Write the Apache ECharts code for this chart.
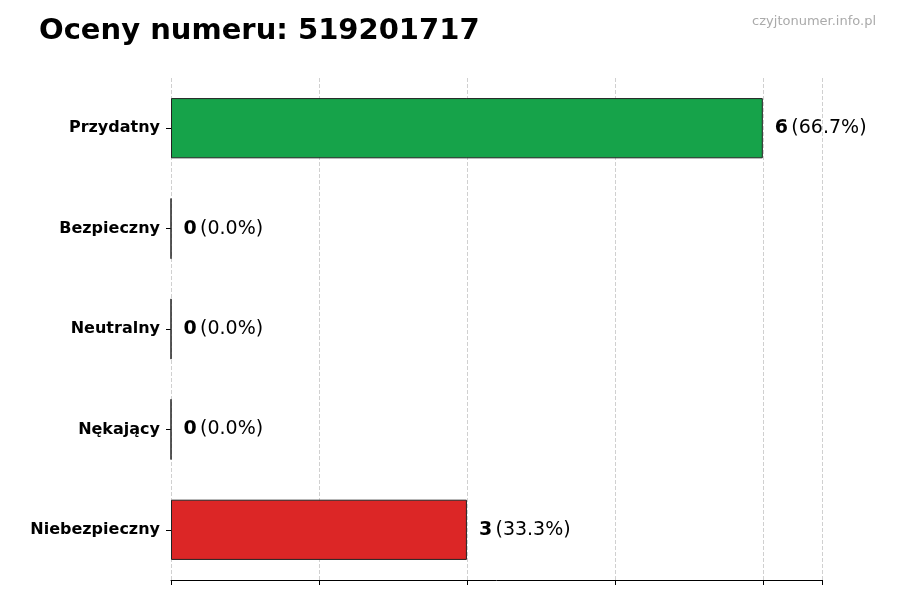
<!DOCTYPE html>
<html><head><meta charset="utf-8">
<script src="https://cdn.jsdelivr.net/npm/echarts@6/dist/echarts.min.js"></script>
<style>html,body{margin:0;padding:0;background:#fff}</style>
</head><body>
<div id="main" style="width:900px;height:600px"></div>
<script>
const categories = ['Przydatny', 'Bezpieczny', 'Neutralny', 'Nękający', 'Niebezpieczny'];
const counts = [6, 0, 0, 0, 3];
const percents = ['66.7%', '0.0%', '0.0%', '0.0%', '33.3%'];
const colors = ['#16a34a', '#16a34a', '#9ca3af', '#dc2626', '#dc2626'];

const chart = echarts.init(document.getElementById('main'));
chart.setOption({
    animation: false,
    title: [
        { text: 'Oceny numeru: 519201717', left: 34, top: 12,
          textStyle: { fontFamily: 'DejaVu Sans', fontSize: 29, fontWeight: 'bold', color: '#000' } },
        { text: 'czyjtonumer.info.pl', right: 19, top: 10,
          textStyle: { fontFamily: 'DejaVu Sans', fontSize: 13, fontWeight: 'normal', color: '#aaa' } }
    ],
    grid: { left: 171, right: 78, top: 78, bottom: 20 },
    xAxis: {
        type: 'value', min: 0, max: 6.6, interval: 1.5,
        axisLabel: { show: false },
        axisLine: { show: true, lineStyle: { color: '#000' } },
        axisTick: { show: true, length: 5, lineStyle: { color: '#000' } },
        splitLine: { show: true, lineStyle: { type: 'dashed', color: '#d0d0d0' } }
    },
    yAxis: {
        type: 'category', inverse: true, data: categories,
        axisLine: { show: false },
        axisTick: { show: true, alignWithLabel: true, length: 5, lineStyle: { color: '#000' } },
        axisLabel: { fontFamily: 'DejaVu Sans', fontSize: 16, fontWeight: 'bold', color: '#000', margin: 11 }
    },
    series: [{
        type: 'bar', barWidth: '60%',
        data: counts.map((v, i) => ({
            value: v,
            itemStyle: { color: colors[i], borderColor: '#222', borderWidth: 1 }
        })),
        label: {
            show: true, position: 'right', distance: 12,
            formatter: p => '{b|' + p.value + '} {n|(' + percents[p.dataIndex] + ')}',
            rich: {
                b: { fontFamily: 'DejaVu Sans', fontSize: 19, fontWeight: 'bold', color: '#000' },
                n: { fontFamily: 'DejaVu Sans', fontSize: 19, color: '#000' }
            }
        }
    }]
});
</script>
</body></html>
